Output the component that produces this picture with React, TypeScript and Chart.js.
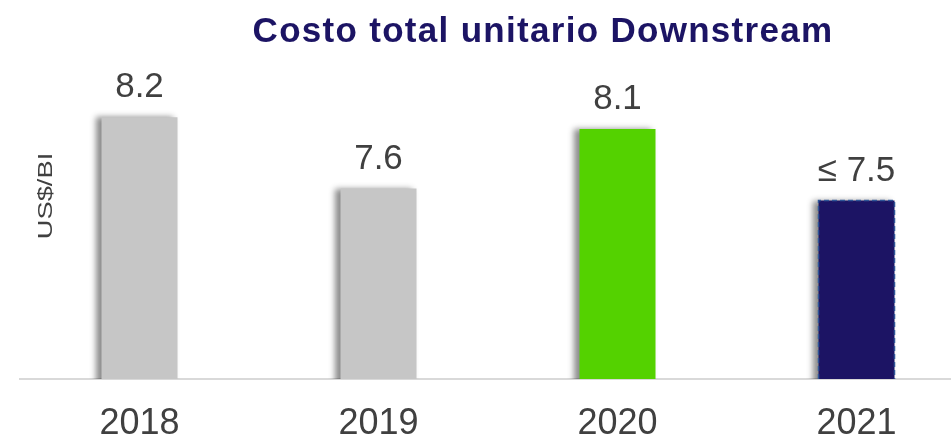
import React, { useEffect, useRef } from "react";
import { Chart, registerables } from "chart.js";

Chart.register(...registerables);

const categories = ["2018", "2019", "2020", "2021"];
const values = [8.2, 7.6, 8.1, 7.5];
const valueLabels = ["8.2", "7.6", "8.1", "≤ 7.5"];
const barColors = ["#c6c6c6", "#c6c6c6", "#54d200", "#1c1464"];
const chartTitle = "Costo total unitario Downstream";
const yAxisLabel = "US$/BI";

const FONT = "'Liberation Sans', Arial, sans-serif";

export default function App() {
  const ref = useRef<HTMLCanvasElement | null>(null);

  useEffect(() => {
    const canvas = ref.current;
    if (!canvas) return;

    const decor = {
      id: "decor",
      beforeDatasetsDraw(chart: any) {
        const ctx = chart.ctx;
        ctx.save();
        ctx.shadowColor = "rgba(0,0,0,0.45)";
        ctx.shadowBlur = 6;
        ctx.shadowOffsetX = -5;
        ctx.shadowOffsetY = 0;
      },
      afterDatasetsDraw(chart: any) {
        const ctx = chart.ctx;
        ctx.restore();
        const meta = chart.getDatasetMeta(0);
        const bottom = chart.chartArea.bottom;
        ctx.save();
        // dashed border for forecast bar
        const el = meta.data[3];
        if (el) {
          const w = el.width;
          const base = Math.min(el.base, bottom);
          ctx.strokeStyle = "#2f5597";
          ctx.lineWidth = 1.5;
          ctx.setLineDash([5, 3]);
          ctx.beginPath();
          ctx.moveTo(el.x - w / 2, base);
          ctx.lineTo(el.x - w / 2, el.y);
          ctx.lineTo(el.x + w / 2, el.y);
          ctx.lineTo(el.x + w / 2, base);
          ctx.stroke();
          ctx.setLineDash([]);
        }
        // value labels
        ctx.fillStyle = "#404040";
        ctx.font = `35px ${FONT}`;
        ctx.textAlign = "center";
        ctx.textBaseline = "alphabetic";
        meta.data.forEach((b: any, i: number) => {
          ctx.fillText(valueLabels[i], b.x, b.y - 20);
        });
        ctx.restore();
      },
      afterDraw(chart: any) {
        const ctx = chart.ctx;
        ctx.save();
        ctx.fillStyle = "#1c1464";
        ctx.font = `bold 35px ${FONT}`;
        (ctx as any).letterSpacing = "1.3px";
        ctx.textAlign = "center";
        ctx.textBaseline = "alphabetic";
        ctx.fillText(chartTitle, 543, 42);
        (ctx as any).letterSpacing = "0px";
        ctx.translate(52, 196);
        ctx.rotate(-Math.PI / 2);
        ctx.scale(1.3, 1);
        ctx.fillStyle = "#404040";
        ctx.font = `21px ${FONT}`;
        ctx.textAlign = "center";
        ctx.textBaseline = "alphabetic";
        ctx.fillText(yAxisLabel, 0, 0);
        ctx.restore();
      },
    };

    const chart = new Chart(canvas, {
      type: "bar",
      data: {
        labels: categories,
        datasets: [
          {
            data: values,
            backgroundColor: barColors,
            borderWidth: 0,
            categoryPercentage: 1,
            barPercentage: 0.318,
          },
        ],
      },
      options: {
        responsive: false,
        animation: false,
        devicePixelRatio: 1,
        layout: { padding: { left: 20, right: 4, top: 81.5, bottom: 0 } },
        plugins: {
          legend: { display: false },
          title: { display: false },
          tooltip: { enabled: false },
        },
        scales: {
          x: {
            grid: { display: false, drawTicks: false },
            border: { display: true, color: "#d9d9d9", width: 2 },
            ticks: {
              color: "#404040",
              font: { family: FONT, size: 36 },
              padding: 23,
            },
            afterFit: (scale: any) => {
              scale.height = 61;
            },
          },
          y: {
            display: false,
            min: 6,
            max: 8.5,
          },
        },
      },
      plugins: [decor],
    });

    return () => chart.destroy();
  }, []);

  return (
    <div
      style={{
        position: "fixed",
        left: 0,
        top: 0,
        width: 951,
        height: 440,
        overflow: "hidden",
        background: "#ffffff",
      }}
    >
      <canvas ref={ref} width={980} height={440} style={{ display: "block" }} />
    </div>
  );
}
